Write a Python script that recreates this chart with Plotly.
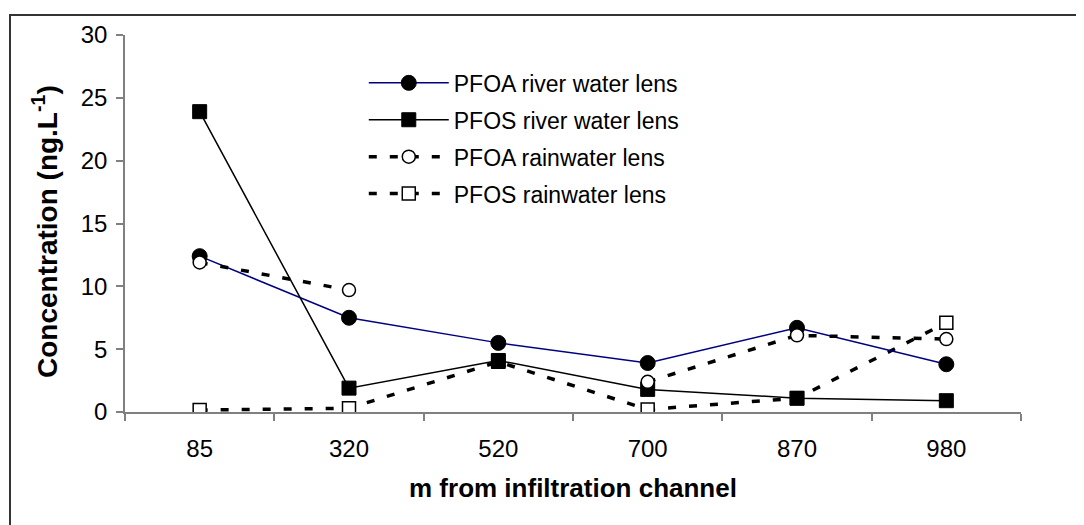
import plotly.graph_objects as go

distances = ["85", "320", "520", "700", "870", "980"]
pfoa_river = [12.4, 7.5, 5.5, 3.9, 6.7, 3.8]
pfos_river = [23.9, 1.9, 4.1, 1.8, 1.1, 0.9]
pfoa_rain = [11.9, 9.7, None, 2.4, 6.1, 5.8]
pfos_rain = [0.15, 0.3, 4.0, 0.2, 1.1, 7.1]

FONT = "Liberation Sans, Arial, sans-serif"
DASH = "8px,13px"

# page body has an 8px margin; figure sized to fit the window
W, H = 1076, 517
L, T = 117, 27
PW, PH = 896, 377

fig = go.Figure()
# drawing order (bottom -> top) follows the reference overlaps
fig.add_trace(go.Scatter(
    x=distances, y=pfos_rain, name="PFOS rainwater lens", mode="lines+markers",
    line=dict(color="black", width=3.5, dash=DASH),
    marker=dict(symbol="square", size=13, color="white", line=dict(color="black", width=1.5)),
    legendgroup="d", legendrank=4))
fig.add_trace(go.Scatter(
    x=distances, y=pfoa_river, name="PFOA river water lens", mode="lines+markers",
    line=dict(color="#000080", width=1.5),
    marker=dict(symbol="circle", size=15, color="black", line=dict(color="black", width=1)),
    legendgroup="a", legendrank=1))
fig.add_trace(go.Scatter(
    x=distances, y=pfos_river, name="PFOS river water lens", mode="lines+markers",
    line=dict(color="black", width=1.5),
    marker=dict(symbol="square", size=14, color="black", line=dict(color="black", width=1)),
    legendgroup="b", legendrank=2))
fig.add_trace(go.Scatter(
    x=distances, y=pfoa_rain, name="PFOA rainwater lens", mode="lines+markers",
    line=dict(color="black", width=3.5, dash=DASH),
    marker=dict(symbol="circle", size=13, color="white", line=dict(color="black", width=1.5)),
    connectgaps=False, legendgroup="c", legendrank=3))

fig.update_layout(
    width=W, height=H,
    margin=dict(l=L, r=W - L - PW, t=T, b=H - T - PH, autoexpand=False),
    paper_bgcolor="white", plot_bgcolor="white",
    font=dict(family=FONT, size=24, color="black"),
    showlegend=True,
    legend=dict(x=0.2665, y=0.93, xanchor="left", yanchor="top",
                font=dict(size=23, family=FONT), bgcolor="rgba(0,0,0,0)",
                itemwidth=80, tracegroupgap=4, traceorder="grouped"),
    xaxis=dict(
        type="category", range=[-0.5, 5.5], showgrid=False, zeroline=False,
        showline=True, linecolor="#808080", linewidth=1.5,
        ticks="outside", ticklen=7, tickcolor="#808080", tickwidth=1.5,
        tickson="boundaries", tickfont=dict(size=24, family=FONT),
        ticklabelstandoff=14,
        title=dict(text="<b>m from infiltration channel</b>", standoff=18,
                   font=dict(size=26, family=FONT))),
    yaxis=dict(
        range=[0, 30], dtick=5, showgrid=False, zeroline=False,
        showline=True, linecolor="#808080", linewidth=1.5,
        ticks="outside", ticklen=7, tickcolor="#808080", tickwidth=1.5,
        tickfont=dict(size=24, family=FONT), ticklabelstandoff=4),
    annotations=[dict(
        text="<b>Concentration (ng.L<sup>-1</sup>)</b>", textangle=-90,
        xref="paper", yref="paper", x=(37 - L) / PW, y=(T + PH - 224) / PH,
        xanchor="center", yanchor="middle", showarrow=False,
        font=dict(size=28, family=FONT))],
    shapes=[dict(type="rect", xref="paper", yref="paper",
                 x0=(2 - L) / PW, x1=(1069 - L) / PW,
                 y0=-(H + 10 - T - PH) / PH, y1=(T + PH - 7) / PH,
                 line=dict(color="#333333", width=2), fillcolor="rgba(0,0,0,0)",
                 layer="below")],
)

fig.write_html("out.html")
